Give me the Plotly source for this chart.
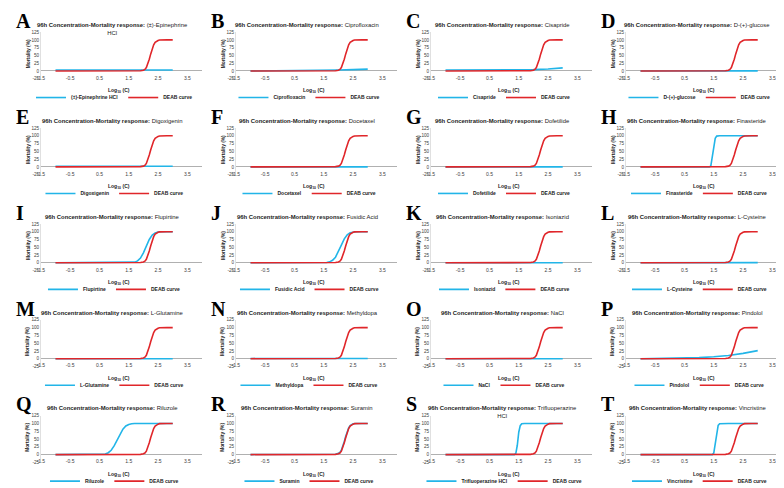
import plotly.graph_objects as go

# ---------------- data ----------------
PANEL_LETTERS = ["A", "B", "C", "D", "E", "F", "G", "H", "I", "J",
                 "K", "L", "M", "N", "O", "P", "Q", "R", "S", "T"]
COMPOUNDS = ["(±)-Epinephrine HCl", "Ciprofloxacin", "Cisapride", "D-(+)-glucose",
             "Digoxigenin", "Docetaxel", "Dofetilide", "Finasteride",
             "Flupirtine", "Fusidic Acid", "Isoniazid", "L-Cysteine",
             "L-Glutamine", "Methyldopa", "NaCl", "Pindolol",
             "Riluzole", "Suramin", "Trifluoperazine HCl", "Vincristine"]
TITLE_NAMES = ["(±)-Epinephrine<br>HCl", "Ciprofloxacin", "Cisapride", "D-(+)-glucose",
               "Digoxigenin", "Docetaxel", "Dofetilide", "Finasteride",
               "Flupirtine", "Fusidic Acid", "Isoniazid", "L-Cysteine",
               "L-Glutamine", "Methyldopa", "NaCl", "Pindolol",
               "Riluzole", "Suramin", "Trifluoperazine<br>HCl", "Vincristine"]
X_TICKS = [-1.5, -0.5, 0.5, 1.5, 2.5, 3.5]
Y_TICKS = [-25, 0, 25, 50, 75, 100, 125]

# DEAB reference curve (same in every panel)
DEAB_X = [-1.0, 1.0, 1.8, 1.9, 2.0, 2.05, 2.1, 2.15, 2.2, 2.25, 2.3, 2.35, 2.4, 2.45, 2.5, 2.55, 2.6, 2.8, 3.0]
DEAB_Y = [0, 0, 0.2, 0.8, 2.5, 5, 11, 22, 38, 55, 72, 84, 92, 96, 98, 99.5, 100, 100, 100]

# compound curves
X_FLAT = [-1.0, 0.0, 1.0, 2.0, 3.0]
EPINEPHRINE_Y = [3, 3, 3, 3, 3]
GLUCOSE_Y = [0, 0, 0, 0, 0.5]
DIGOXIGENIN_Y = [2, 2, 2, 2, 2]
DOCETAXEL_Y = [0, 0, 0, 0, 0]
DOFETILIDE_Y = [0, 0, 0, 0, 0]
ISONIAZID_Y = [0, 0, 0, 0, 0]
CYSTEINE_Y = [0, 0, 0, 0.3, 0.5]
GLUTAMINE_Y = [0, 0, 0, 0, 0]
METHYLDOPA_Y = [0.5, 0.5, 0.5, 0.5, 0.5]
NACL_Y = [0, 0, 0, 0, 0]

X_SLOW = [-1.0, 0.0, 1.0, 1.5, 2.0, 2.5, 3.0]
CIPRO_Y = [0, 0.3, 0.8, 1.5, 3, 4.5, 6]
CISAPRIDE_Y = [3, 3, 3.2, 3.6, 4.5, 6.5, 10]

PINDOLOL_X = [-1.0, -0.5, 0.0, 0.5, 1.0, 1.5, 2.0, 2.5, 3.0]
PINDOLOL_Y = [0, 0.5, 1, 2, 3.5, 6, 10, 17, 26]

FINASTERIDE_X = [-1.0, 1.0, 1.35, 1.4, 1.45, 1.5, 1.55, 1.6, 1.7, 2.0, 3.0]
FINASTERIDE_Y = [0, 0, 0, 3, 30, 70, 92, 99, 100, 100, 100]

FLUPIRTINE_X = [-1.0, 1.0, 1.6, 1.7, 1.8, 1.9, 2.0, 2.1, 2.2, 2.3, 2.4, 2.5, 2.6, 3.0]
FLUPIRTINE_Y = [0, 0, 0.5, 2, 6, 15, 32, 55, 75, 89, 96, 99, 100, 100]

FUSIDIC_X = [-1.0, 1.0, 1.6, 1.7, 1.8, 1.9, 2.0, 2.1, 2.2, 2.3, 2.4, 2.5, 2.6, 3.0]
FUSIDIC_Y = [0, 0, 1, 3, 8, 18, 35, 57, 77, 90, 97, 99.5, 100, 100]

RILUZOLE_X = [-1.0, 0.5, 0.6, 0.7, 0.8, 0.9, 1.0, 1.1, 1.2, 1.3, 1.4, 1.5, 1.6, 1.7, 3.0]
RILUZOLE_Y = [0, 0, 0.5, 2, 6, 14, 28, 47, 66, 82, 92, 97, 99, 100, 100]

SURAMIN_X = [-1.0, 1.0, 1.8, 1.9, 2.0, 2.05, 2.1, 2.15, 2.2, 2.25, 2.3, 2.35, 2.4, 2.45, 2.5, 2.6, 3.0]
SURAMIN_Y = [0, 0, 0.4, 1.2, 4, 7, 14, 26, 42, 59, 75, 86, 93, 97, 99, 100, 100]

TRIFLUO_X = [-1.0, 1.0, 1.35, 1.4, 1.45, 1.5, 1.55, 1.6, 1.7, 2.0, 3.0]
TRIFLUO_Y = [0, 0, 0, 4, 30, 72, 93, 99, 100, 100, 100]

VINCRISTINE_X = [-1.0, 1.0, 1.45, 1.5, 1.55, 1.6, 1.65, 1.7, 1.8, 2.0, 3.0]
VINCRISTINE_Y = [0, 0, 0, 5, 35, 75, 94, 99, 100, 100, 100]

SERIES = [
    (X_FLAT, EPINEPHRINE_Y), (X_SLOW, CIPRO_Y), (X_SLOW, CISAPRIDE_Y), (X_FLAT, GLUCOSE_Y),
    (X_FLAT, DIGOXIGENIN_Y), (X_FLAT, DOCETAXEL_Y), (X_FLAT, DOFETILIDE_Y), (FINASTERIDE_X, FINASTERIDE_Y),
    (FLUPIRTINE_X, FLUPIRTINE_Y), (FUSIDIC_X, FUSIDIC_Y), (X_FLAT, ISONIAZID_Y), (X_FLAT, CYSTEINE_Y),
    (X_FLAT, GLUTAMINE_Y), (X_FLAT, METHYLDOPA_Y), (X_FLAT, NACL_Y), (PINDOLOL_X, PINDOLOL_Y),
    (RILUZOLE_X, RILUZOLE_Y), (SURAMIN_X, SURAMIN_Y), (TRIFLUO_X, TRIFLUO_Y), (VINCRISTINE_X, VINCRISTINE_Y),
]

# ---------------- layout constants ----------------
W, H = 784, 488
COL_PITCH = 196
ROW_PITCH = 97.5
PLOT_L0 = 29
PLOT_W = 162
ZERO0 = 62
BLUE = "#22b5e8"
RED = "#e0262a"
FONT = "Arial, Liberation Sans, sans-serif"
SERIF = "Times New Roman, Liberation Serif, serif"


def fx(px):
    return px / W


def fy(px):
    return 1 - px / H


fig = go.Figure()
layout = dict(
    width=W, height=H, margin=dict(l=0, r=0, t=0, b=0),
    paper_bgcolor="white", plot_bgcolor="white", showlegend=True,
    font=dict(family=FONT, size=5, color="#404040"),
)
annotations = []

for i in range(20):
    r, c = divmod(i, 4)
    n = i + 1
    sfx = "" if n == 1 else str(n)
    left = PLOT_L0 + c * COL_PITCH
    right = left + PLOT_W
    zero = ZERO0 + r * ROW_PITCH
    top = zero - 39.5
    bot = zero + 7.9
    cx_plot = (left + right) / 2
    cx_panel = c * COL_PITCH + 101
    lg = "legend" + sfx

    xs, ys = SERIES[i]
    fig.add_trace(go.Scatter(x=xs, y=ys, mode="lines", name=COMPOUNDS[i],
                             line=dict(color=BLUE, width=1.6),
                             xaxis="x" + sfx, yaxis="y" + sfx, legend=lg,
                             hoverinfo="skip"))
    fig.add_trace(go.Scatter(x=DEAB_X, y=DEAB_Y, mode="lines", name="DEAB curve",
                             line=dict(color=RED, width=1.6),
                             xaxis="x" + sfx, yaxis="y" + sfx, legend=lg,
                             hoverinfo="skip"))

    layout["xaxis" + sfx] = dict(
        domain=[fx(left), fx(right)], anchor="y" + sfx, range=[-1.5, 4.0],
        tickvals=X_TICKS, ticktext=[f"{v:g}" for v in X_TICKS],
        showgrid=False, zeroline=False, showline=False, ticks="",
        tickfont=dict(size=5, color="#404040", family=FONT),
        ticklabelstandoff=-5, fixedrange=True,
    )
    layout["yaxis" + sfx] = dict(
        domain=[fy(bot), fy(top)], anchor="x" + sfx, range=[-25, 125],
        tickvals=Y_TICKS, ticktext=[str(v) for v in Y_TICKS],
        showgrid=False, zeroline=True, zerolinecolor="#b0b0b0", zerolinewidth=1,
        showline=True, linecolor="#e0e0e0", linewidth=0.6, ticks="",
        tickfont=dict(size=4.6, color="#404040", family=FONT), fixedrange=True,
    )
    layout[lg] = dict(
        x=fx(c * COL_PITCH + 103), y=fy(zero + 27), xanchor="center", yanchor="middle",
        orientation="h", bgcolor="rgba(0,0,0,0)", borderwidth=0,
        font=dict(size=5, family=FONT, color="#222222", weight="bold"),
        itemclick=False, itemdoubleclick=False, tracegroupgap=0,
    )

    # panel letter
    annotations.append(dict(x=fx(c * COL_PITCH + 2), y=fy(zero - 51), xref="paper", yref="paper",
                            xanchor="left", yanchor="middle", showarrow=False,
                            text=f"<b>{PANEL_LETTERS[i]}</b>",
                            font=dict(family=SERIF, size=20, color="black")))
    # title
    annotations.append(dict(x=fx(cx_panel), y=fy(zero - 52), xref="paper", yref="paper",
                            xanchor="center", yanchor="top", showarrow=False, align="center",
                            text=f"<b>96h Concentration-Mortality response:</b> {TITLE_NAMES[i]}",
                            font=dict(family=FONT, size=5.9, color="#222222")))
    # x axis title
    annotations.append(dict(x=fx(cx_plot - 2), y=fy(zero + 20), xref="paper", yref="paper",
                            xanchor="center", yanchor="middle", showarrow=False,
                            text="<b>Log<sub>10</sub> (C)</b>",
                            font=dict(family=FONT, size=5, color="#222222")))
    # y axis title
    annotations.append(dict(x=fx(left - 13), y=fy(zero - 18), xref="paper", yref="paper",
                            xanchor="center", yanchor="middle", showarrow=False, textangle=-90,
                            text="<b>Mortality (%)</b>",
                            font=dict(family=FONT, size=4.8, color="#222222")))

layout["annotations"] = annotations
fig.update_layout(**layout)
fig.write_html("out.html", config={"displayModeBar": False})
